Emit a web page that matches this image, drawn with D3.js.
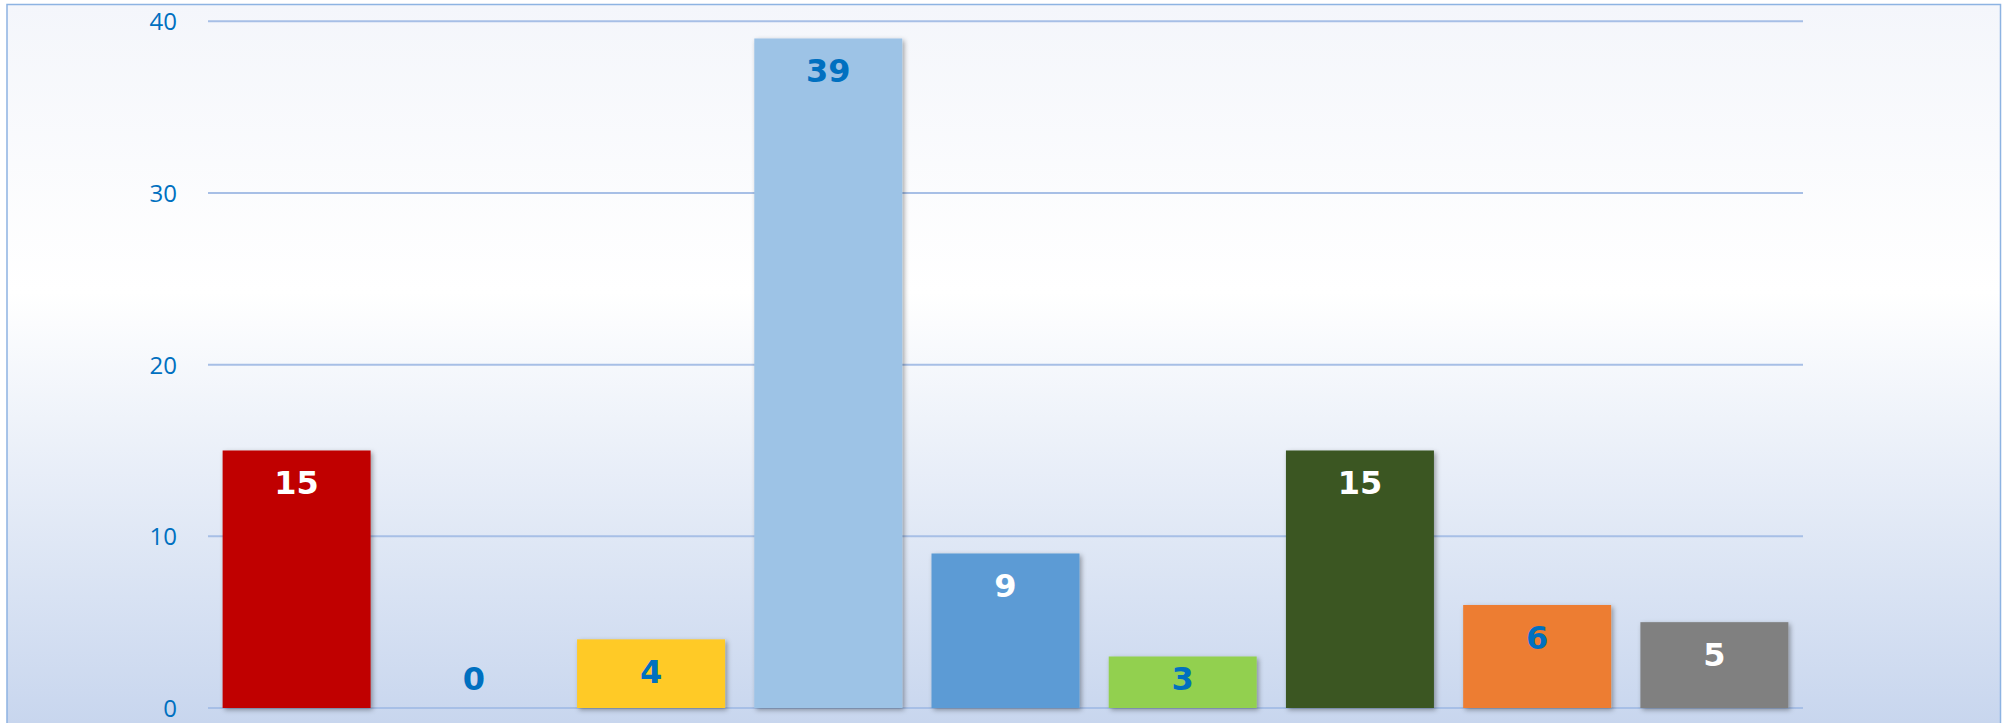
<!DOCTYPE html>
<html>
<head>
<meta charset="utf-8">
<script src="https://cdn.jsdelivr.net/npm/d3@7/dist/d3.min.js"></script>
<style>
  html, body { margin: 0; padding: 0; background: #ffffff; }
  svg { display: block; }
</style>
</head>
<body>
<svg id="chart" width="2007" height="723"></svg>
<script>
const categories = ["C1", "C2", "C3", "C4", "C5", "C6", "C7", "C8", "C9"];
const values = [15, 0, 4, 39, 9, 3, 15, 6, 5];
const barColors = ["#c00000", "#c00000", "#ffca28", "#9dc3e6", "#5b9bd5", "#92d050", "#3a5623", "#ed7d31", "#808080"];
const labelColors = ["#ffffff", "#0070c0", "#0070c0", "#0070c0", "#ffffff", "#0070c0", "#ffffff", "#0070c0", "#ffffff"];
const yTicks = [0, 10, 20, 30, 40];

const data = categories.map((c, i) => ({ cat: c, value: values[i], color: barColors[i], labelColor: labelColors[i] }));

const svg = d3.select("#chart");

const defs = svg.append("defs");
const grad = defs.append("linearGradient")
  .attr("id", "bg").attr("gradientUnits", "userSpaceOnUse")
  .attr("x1", 0).attr("y1", 5).attr("x2", 0).attr("y2", 723);
grad.append("stop").attr("offset", 0).attr("stop-color", "#f4f6fb");
grad.append("stop").attr("offset", 0.4).attr("stop-color", "#ffffff");
grad.append("stop").attr("offset", 1).attr("stop-color", "#c8d6ee");

const shadow = defs.append("filter").attr("id", "shadow")
  .attr("x", "-10%").attr("y", "-10%").attr("width", "130%").attr("height", "130%");
shadow.append("feDropShadow")
  .attr("dx", 2).attr("dy", 2).attr("stdDeviation", 2.5)
  .attr("flood-color", "#000").attr("flood-opacity", 0.35);

// chart area background + border
svg.append("rect")
  .attr("x", 7).attr("y", 4.5).attr("width", 1993.5).attr("height", 760)
  .attr("fill", "url(#bg)")
  .attr("stroke", "#8db3e2").attr("stroke-width", 1.5);

const plotLeft = 208, plotRight = 1803;
const y = d3.scaleLinear().domain([0, 40]).range([708, 21.3]);
const x = d3.scaleBand().domain(categories).range([plotLeft, plotRight])
  .paddingInner(0.165).paddingOuter(0.0825);

// gridlines
svg.append("g").attr("class", "grid").selectAll("line").data(yTicks).join("line")
  .attr("x1", plotLeft).attr("x2", plotRight)
  .attr("y1", d => y(d)).attr("y2", d => y(d))
  .attr("stroke", "#a7bfe6").attr("stroke-width", 2);

// y axis labels via d3 axis
const yAxis = d3.axisLeft(y).tickValues(yTicks).tickSize(0).tickPadding(0).tickFormat(d3.format("d"));
const gy = svg.append("g").attr("class", "yaxis").attr("transform", "translate(177,0)").call(yAxis);
gy.select(".domain").remove();
gy.selectAll("text")
  .attr("fill", "#0070c0")
  .attr("font-family", "'Open Sans', 'Noto Sans', sans-serif")
  .attr("font-size", 24)
  .attr("dy", "0.35em");

// bars
svg.append("g").attr("class", "bars").selectAll("rect")
  .data(data.filter(d => d.value > 0)).join("rect")
  .attr("x", d => x(d.cat))
  .attr("y", d => y(d.value))
  .attr("width", x.bandwidth())
  .attr("height", d => y(0) - y(d.value))
  .attr("fill", d => d.color)
  .attr("filter", "url(#shadow)");

// value labels
svg.append("g").attr("class", "labels").selectAll("text").data(data).join("text")
  .attr("x", d => x(d.cat) + x.bandwidth() / 2)
  .attr("y", d => Math.min(y(d.value) + 44, y(0) - 18))
  .attr("text-anchor", "middle")
  .attr("font-family", "'DejaVu Sans', Verdana, sans-serif")
  .attr("font-weight", "bold")
  .attr("font-size", 32)
  .attr("fill", d => d.labelColor)
  .text(d => d.value);
</script>
</body>
</html>
